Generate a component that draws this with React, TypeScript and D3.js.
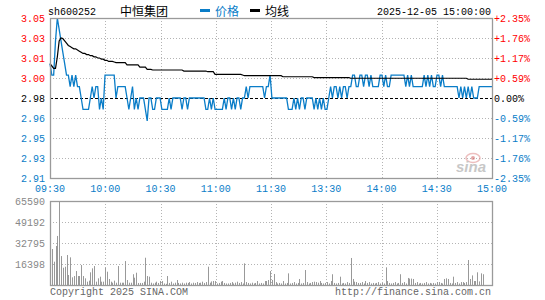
import React from "react";
import * as d3 from "d3";

const symbol = "sh600252";
const stockName = "中恒集团";
const stamp = "2025-12-05 15:00:00";

const timeLabels = ["09:30", "10:00", "10:30", "11:00", "11:30", "13:30", "14:00", "14:30", "15:00"];
const priceLabels = ["3.05", "3.03", "3.01", "3.00", "2.98", "2.96", "2.95", "2.93", "2.91"];
const pctLabels = ["+2.35%", "+1.76%", "+1.17%", "+0.59%", "0.00%", "-0.59%", "-1.17%", "-1.76%", "-2.35%"];
const volLabels = ["65590", "49192", "32795", "16398"];

// minute prices, 09:30 .. 15:00 (242 points)
const price = [
  3.01, 3.0, 3.0, 3.03, 3.05, 3.04, 3.03, 3.02, 3.01, 3.0,
  3.0, 2.99, 3.0, 2.99, 3.0, 2.99, 2.99, 2.98, 2.97, 2.97,
  2.97, 2.97, 2.98, 2.99, 2.98, 2.99, 2.99, 2.97, 2.98, 2.97,
  3.0, 3.0, 3.0, 3.0, 3.0, 3.0, 2.98, 2.99, 2.99, 2.99,
  2.99, 2.99, 2.98, 2.97, 2.98, 2.99, 2.97, 2.98, 2.97, 2.98,
  2.98, 2.98, 2.97, 2.96, 2.98, 2.98, 2.97, 2.97, 2.98, 2.98,
  2.98, 2.97, 2.97, 2.97, 2.97, 2.98, 2.97, 2.98, 2.98, 2.98,
  2.98, 2.98, 2.97, 2.98, 2.98, 2.97, 2.98, 2.98, 2.98, 2.98,
  2.98, 2.98, 2.98, 2.98, 2.98, 2.97, 2.97, 2.98, 2.97, 2.98,
  2.97, 2.97, 2.97, 2.97, 2.97, 2.98, 2.97, 2.98, 2.98, 2.97,
  2.98, 2.97, 2.98, 2.98, 2.97, 2.98, 2.98, 2.99, 2.98, 2.99,
  2.99, 2.99, 2.99, 2.99, 2.99, 2.99, 2.99, 2.98, 2.99, 2.99,
  3.0, 2.98, 2.98, 2.98, 2.98, 2.98, 2.98, 2.98, 2.98, 2.98,
  2.97, 2.97, 2.97, 2.98, 2.97, 2.98, 2.97, 2.98, 2.98, 2.97,
  2.98, 2.98, 2.98, 2.98, 2.97, 2.98, 2.97, 2.98, 2.97, 2.98,
  2.97, 2.97, 2.98, 2.99, 2.98, 2.99, 2.99, 2.98, 2.99, 2.98,
  2.99, 2.99, 2.98, 2.99, 2.99, 3.0, 3.0, 2.99, 2.99, 3.0,
  3.0, 2.99, 3.0, 3.0, 2.99, 3.0, 2.99, 2.99, 2.99, 2.99,
  3.0, 3.0, 2.99, 3.0, 2.99, 2.99, 3.0, 3.0, 3.0, 3.0,
  3.0, 3.0, 3.0, 3.0, 2.99, 3.0, 2.99, 3.0, 2.99, 2.99,
  2.99, 2.99, 2.99, 2.99, 3.0, 2.99, 3.0, 2.99, 3.0, 2.99,
  2.99, 3.0, 3.0, 2.99, 3.0, 2.99, 2.99, 2.99, 2.99, 2.99,
  2.99, 2.99, 2.99, 2.98, 2.99, 2.98, 2.99, 2.98, 2.99, 2.98,
  2.99, 2.98, 2.98, 2.98, 2.99, 2.99, 2.99, 2.99, 2.99, 2.99,
  2.99, 2.99,
];

// running average price
const avgPrice = [
  3.01, 3.008, 3.006, 3.006, 3.016, 3.03, 3.0325, 3.032, 3.03, 3.028,
  3.026, 3.025, 3.024, 3.023, 3.023, 3.022, 3.021, 3.02, 3.019, 3.019,
  3.018, 3.018, 3.017, 3.017, 3.016, 3.016, 3.015, 3.015, 3.014, 3.014,
  3.013, 3.013, 3.012, 3.012, 3.012, 3.0115, 3.011, 3.011, 3.011, 3.011,
  3.011, 3.011, 3.009, 3.009, 3.009, 3.009, 3.009, 3.009, 3.009, 3.007,
  3.007, 3.007, 3.007, 3.005, 3.005, 3.005, 3.0045, 3.0045, 3.0045, 3.0045,
  3.0045, 3.0045, 3.0045, 3.0045, 3.0045, 3.0045, 3.0045, 3.0045, 3.0045, 3.0045,
  3.0045, 3.0045, 3.0045, 3.0036, 3.0036, 3.0036, 3.0036, 3.0036, 3.0036, 3.0036,
  3.0036, 3.0036, 3.0036, 3.0036, 3.0036, 3.0036, 3.003, 3.003, 3.003, 3.003,
  3.0007, 3.0007, 3.0007, 3.0007, 3.0007, 3.0007, 3.0007, 3.0007, 3.0007, 3.0007,
  3.0007, 3.0007, 3.0007, 3.0007, 3.0007, 3.0001, 2.9995, 2.9995, 2.9995, 2.9995,
  2.9995, 2.9995, 2.9995, 2.9995, 2.9995, 2.9995, 2.9995, 2.9995, 2.9995, 2.9995,
  2.9995, 2.9995, 2.9995, 2.9995, 2.9995, 2.9995, 2.9995, 2.9986, 2.9986, 2.9986,
  2.9986, 2.9986, 2.9986, 2.9986, 2.9986, 2.9986, 2.9986, 2.9986, 2.9986, 2.9986,
  2.9986, 2.9986, 2.9986, 2.9986, 2.9978, 2.9978, 2.9978, 2.9978, 2.9978, 2.9978,
  2.9978, 2.9978, 2.9978, 2.9978, 2.9978, 2.9978, 2.9978, 2.9978, 2.9978, 2.9978,
  2.9978, 2.9978, 2.9978, 2.9978, 2.9973, 2.9973, 2.9973, 2.9973, 2.9973, 2.9973,
  2.9973, 2.9973, 2.9973, 2.9973, 2.9973, 2.9973, 2.9973, 2.9973, 2.9973, 2.9973,
  2.9973, 2.9973, 2.9973, 2.9973, 2.9973, 2.9973, 2.9973, 2.9973, 2.9973, 2.9973,
  2.9973, 2.9973, 2.9973, 2.9973, 2.9973, 2.9973, 2.9973, 2.9973, 2.9973, 2.9973,
  2.9973, 2.9973, 2.9973, 2.9973, 2.9973, 2.9973, 2.9973, 2.9973, 2.9973, 2.9973,
  2.9973, 2.9973, 2.9973, 2.9973, 2.9973, 2.9973, 2.9973, 2.9973, 2.9973, 2.9973,
  2.9973, 2.9973, 2.9973, 2.9973, 2.9973, 2.9973, 2.9973, 2.9973, 2.9964, 2.9964,
  2.9964, 2.9964, 2.9964, 2.9964, 2.9964, 2.9964, 2.9964, 2.9964, 2.9964, 2.9964,
  2.9964, 2.9964,
];

// minute volume
const volume = [
  8600, 28100, 18200, 30500, 38300, 65590, 22600, 13500, 14300, 23400,
  7800, 21600, 6000, 7000, 10900, 7000, 7000, 15600, 7000, 5200,
  2600, 3400, 9900, 13000, 14800, 2600, 5200, 6500, 2600, 2600,
  13500, 10400, 4700, 2600, 1800, 3400, 1800, 14800, 1800, 1800,
  1800, 18700, 3900, 1800, 1800, 8400, 5700, 9600, 1600, 1600,
  1600, 2600, 21300, 7000, 6500, 1800, 1200, 1800, 2600, 1600,
  3100, 3100, 1200, 900, 7000, 1600, 2600, 1200, 1800, 3900,
  1600, 1200, 1800, 1200, 1800, 1600, 2300, 1200, 1800, 1600,
  2300, 1600, 1800, 2600, 1600, 2300, 14300, 1800, 2800, 3100,
  3100, 1200, 1600, 2600, 3100, 1600, 1200, 1200, 1600, 2300,
  1200, 1800, 2600, 1600, 2300, 1200, 16900, 2300, 1600, 1200,
  1800, 1200, 1600, 3100, 1200, 1600, 1200, 3100, 3100, 3900,
  10900, 3900, 8600, 2300, 1200, 1600, 1200, 3100, 1200, 1600,
  9100, 1200, 1600, 2300, 1200, 1600, 4700, 1200, 1600, 11700,
  2300, 1200, 1600, 2300, 2600, 2300, 1800, 3100, 1600, 1200,
  1600, 2300, 1200, 3100, 8400, 1600, 1200, 1600, 6500, 1200,
  1600, 1200, 2300, 1600, 21100, 4700, 2600, 2300, 1600, 1600,
  2300, 1200, 3100, 1600, 2300, 1200, 1600, 1200, 1600, 2300,
  1200, 1600, 1200, 13800, 3100, 1600, 1200, 1600, 2300, 1200,
  1600, 8400, 1600, 2300, 1200, 5500, 5000, 5000, 4700, 1600,
  2300, 1200, 1600, 1200, 1600, 2300, 1200, 1600, 1200, 1600,
  1200, 2300, 2300, 1600, 1200, 4700, 5200, 4700, 1600, 1200,
  6500, 1600, 2300, 1200, 2300, 2300, 1600, 2300, 19500, 4700,
  7500, 3100, 3100, 9900, 2800, 9100, 8400, 0, 0, 0,
  0, 0,
];

const L = 50;
const R = 492;
const PT = 18;
const PB = 178;
const VT = 201;
const VB = 285;

const RED = "#ff0000";
const BLUE = "#0a7dc8";
const GRID = "#b4b4b4";
const FRAME = "#9a9a9a";
const MONO = "'Liberation Mono', 'DejaVu Sans Mono', monospace";
const CJK = "'Noto Sans CJK SC', sans-serif";

const App = () => {
  const x = d3.scaleLinear().domain([0, price.length - 1]).range([L, R]);
  const col = d3.scaleLinear().domain([0, timeLabels.length - 1]).range([L, R]);
  const row = d3.scaleLinear().domain([0, priceLabels.length - 1]).range([PT, PB]);
  const yP = d3.scaleLinear().domain([2.91, 3.05]).range([PB, PT]);
  const yV = d3.scaleLinear().domain([0, 65590]).range([VB, VT]);
  const vRow = d3.scaleLinear().domain([0, volLabels.length]).range([VT, VB]);

  const line = d3
    .line<number>()
    .x((_, i) => x(i))
    .y((d) => yP(d));

  const labelColor = (i: number) => (i < 4 ? RED : i === 4 ? "#000" : BLUE);
  const mid = Math.floor(priceLabels.length / 2);

  return (
    <svg
      width={545}
      height={300}
      style={{ position: "absolute", left: 0, top: 0, background: "#fff" }}
    >
      {/* header */}
      <text x={48} y={14.5} fontFamily={MONO} fontSize={10}>{symbol}</text>
      <text x={120} y={16} fontFamily={CJK} fontSize={12}>{stockName}</text>
      <rect x={200} y={9} width={10} height={3} fill={BLUE} />
      <text x={215} y={16} fontFamily={CJK} fontSize={12} fill={BLUE}>价格</text>
      <rect x={250} y={9} width={10} height={3} fill="#000" />
      <text x={265} y={16} fontFamily={CJK} fontSize={12}>均线</text>
      <text x={491} y={14.5} fontFamily={MONO} fontSize={10} textAnchor="end">{stamp}</text>

      {/* price grid */}
      {timeLabels.slice(1, -1).map((_, i) => (
        <g key={"v" + i}>
          <line x1={Math.round(col(i + 1)) + 0.5} x2={Math.round(col(i + 1)) + 0.5} y1={PT} y2={PB}
            stroke={GRID} strokeDasharray="1 2" />
          <line x1={Math.round(col(i + 1)) + 0.5} x2={Math.round(col(i + 1)) + 0.5} y1={VT} y2={VB}
            stroke={GRID} strokeDasharray="1 2" />
        </g>
      ))}
      {priceLabels.slice(1, -1).map((_, i) =>
        i + 1 === mid ? null : (
          <line key={"h" + i} x1={L} x2={R} y1={Math.round(row(i + 1)) + 0.5} y2={Math.round(row(i + 1)) + 0.5}
            stroke={GRID} strokeDasharray="1 2" />
        )
      )}
      <line x1={L} x2={R} y1={Math.round(row(mid)) + 0.5} y2={Math.round(row(mid)) + 0.5}
        stroke="#000" strokeDasharray="3 2" />
      {volLabels.slice(1).map((_, i) => (
        <line key={"vh" + i} x1={L} x2={R} y1={Math.round(vRow(i + 1)) + 0.5} y2={Math.round(vRow(i + 1)) + 0.5}
          stroke={GRID} strokeDasharray="1 2" />
      ))}

      {/* sina mark */}
      <g opacity={0.55}>
        <ellipse cx={473} cy={158} rx={7} ry={4.5} fill="none" stroke="#e08c8c" strokeWidth={1.5} />
        <circle cx={473} cy={158} r={2} fill="#d06060" />
        <text x={456} y={172} fontFamily="'Liberation Sans', sans-serif" fontStyle="italic" fontWeight="bold"
          fontSize={15} fill="#9a9a9a">sina</text>
      </g>

      {/* lines */}
      <path d={line(price) ?? ""} fill="none" stroke={BLUE} strokeWidth={1.3} />
      <path d={line(avgPrice) ?? ""} fill="none" stroke="#000" strokeWidth={1.2} />

      {/* volume bars */}
      {volume.map((v, i) =>
        v > 0 ? (
          <rect key={"b" + i} x={Math.round(x(i))} y={yV(v)} width={1} height={VB - yV(v)} fill="#999" />
        ) : null
      )}

      {/* frames */}
      <rect x={L + 0.5} y={PT + 0.5} width={R - L} height={PB - PT} fill="none" stroke={FRAME} strokeWidth={1.3} />
      <rect x={L + 0.5} y={VT + 0.5} width={R - L} height={VB - VT} fill="none" stroke={FRAME} strokeWidth={1.3} />

      {/* axis labels */}
      {priceLabels.map((t, i) => (
        <text key={"pl" + i} x={45} y={row(i) + 3.5} textAnchor="end" fontFamily={MONO} fontSize={10}
          fill={labelColor(i)}>{t}</text>
      ))}
      {pctLabels.map((t, i) => (
        <text key={"pr" + i} x={494} y={row(i) + 3.5} fontFamily={MONO} fontSize={10}
          fill={labelColor(i)}>{t}</text>
      ))}
      {timeLabels.map((t, i) => (
        <text key={"t" + i} x={col(i)} y={191.5} textAnchor="middle" fontFamily={MONO} fontSize={10}
          fill={BLUE}>{t}</text>
      ))}
      {volLabels.map((t, i) => (
        <text key={"vl" + i} x={45} y={vRow(i) + 3.5} textAnchor="end" fontFamily={MONO} fontSize={10}
          fill="#888">{t}</text>
      ))}
      <text x={50} y={295} fontFamily={MONO} fontSize={10} fill="#666">Copyright 2025 SINA.COM</text>
      <text x={491} y={295} textAnchor="end" fontFamily={MONO} fontSize={10} fill="#666">
        http://finance.sina.com.cn
      </text>
    </svg>
  );
};

export default App;
